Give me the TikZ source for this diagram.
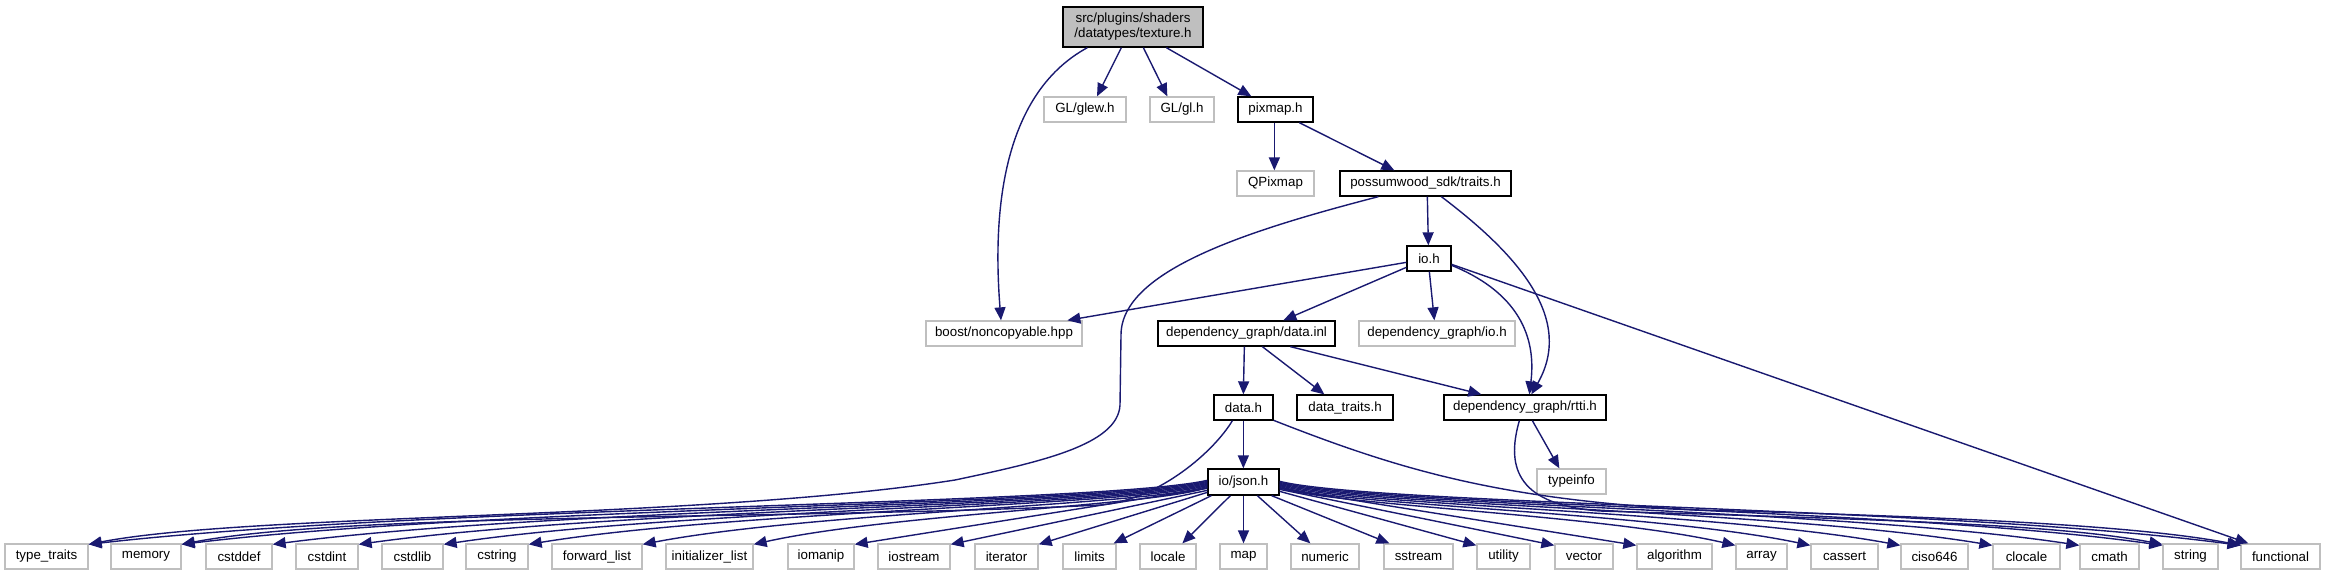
\documentclass[tikz,border=0pt]{standalone}
\usepackage{fontspec}
\setmainfont{Liberation Sans}
\usetikzlibrary{arrows.meta,calc}
\definecolor{edgec}{HTML}{191970}
\definecolor{grayb}{HTML}{BFBFBF}
\tikzset{
 box/.style={draw, rectangle, inner sep=0pt, line width=1.3pt, fill=white, font=\fontsize{13.33}{15}\selectfont},
 extbox/.style={box, draw=grayb},
 intbox/.style={box, draw=black},
 rootbox/.style={box, draw=black, fill=grayb, align=center},
 dep/.style={draw=edgec, line width=1.4pt, -{Triangle[length=13pt,width=11pt]}}
}
\newcommand\mkbox[7]{\node[#6, minimum width={#4-#2}, minimum height={#5-#3}] (#1) at ({(#2+#4)/2},{(#3+#5)/2}) {#7};}
\begin{document}
\begin{tikzpicture}[x=1pt,y=-1pt]
\useasboundingbox (0,0) rectangle (2325,576);
% nodes
\mkbox{texture}{1063}{7}{1203}{47}{rootbox}{src/plugins/shaders\\/datatypes/texture.h}
\mkbox{glew}{1044}{97}{1126}{122}{extbox}{GL/glew.h}
\mkbox{gl}{1150}{97}{1214}{122}{extbox}{GL/gl.h}
\mkbox{pixmap}{1238}{97}{1313}{122}{intbox}{pixmap.h}
\mkbox{qpixmap}{1237}{171}{1314}{196}{extbox}{QPixmap}
\mkbox{traits}{1340}{171}{1511}{196}{intbox}{possumwood\_sdk/traits.h}
\mkbox{io}{1407}{246}{1451}{271}{intbox}{io.h}
\mkbox{boost}{926}{321}{1082}{346}{extbox}{boost/noncopyable.hpp}
\mkbox{datainl}{1158}{321}{1335}{346}{intbox}{dependency\_graph/data.inl}
\mkbox{dgio}{1359}{321}{1515}{346}{extbox}{dependency\_graph/io.h}
\mkbox{datah}{1214}{395}{1273}{420}{intbox}{data.h}
\mkbox{datatraits}{1297}{395}{1393}{420}{intbox}{data\_traits.h}
\mkbox{rtti}{1444}{395}{1606}{420}{intbox}{dependency\_graph/rtti.h}
\mkbox{typeinfo}{1537}{469}{1606}{494}{extbox}{typeinfo}
\mkbox{json}{1208}{469}{1279}{495}{intbox}{io/json.h}
% bottom row
\mkbox{typetraits}{5}{544}{88}{569}{extbox}{type\_traits}
\mkbox{memory}{111}{544}{181}{569}{extbox}{memory}
\mkbox{cstddef}{206}{544}{272}{569}{extbox}{cstddef}
\mkbox{cstdint}{296}{544}{358}{569}{extbox}{cstdint}
\mkbox{cstdlib}{382}{544}{443}{569}{extbox}{cstdlib}
\mkbox{cstring}{466}{544}{528}{569}{extbox}{cstring}
\mkbox{forwardlist}{552}{544}{642}{569}{extbox}{forward\_list}
\mkbox{initlist}{666}{544}{753}{569}{extbox}{initializer\_list}
\mkbox{iomanip}{788}{544}{854}{569}{extbox}{iomanip}
\mkbox{iostream}{878}{544}{950}{569}{extbox}{iostream}
\mkbox{iterator}{975}{544}{1038}{569}{extbox}{iterator}
\mkbox{limits}{1063}{544}{1116}{569}{extbox}{limits}
\mkbox{locale}{1140}{544}{1196}{569}{extbox}{locale}
\mkbox{map}{1220}{544}{1267}{569}{extbox}{map}
\mkbox{numeric}{1291}{544}{1359}{569}{extbox}{numeric}
\mkbox{sstream}{1384}{544}{1453}{569}{extbox}{sstream}
\mkbox{utility}{1477}{544}{1530}{569}{extbox}{utility}
\mkbox{vector}{1555}{544}{1613}{569}{extbox}{vector}
\mkbox{algorithm}{1637}{544}{1712}{569}{extbox}{algorithm}
\mkbox{array}{1736}{544}{1787}{569}{extbox}{array}
\mkbox{cassert}{1811}{544}{1878}{569}{extbox}{cassert}
\mkbox{ciso}{1901}{544}{1968}{569}{extbox}{ciso646}
\mkbox{clocale}{1993}{544}{2060}{569}{extbox}{clocale}
\mkbox{cmath}{2080}{544}{2139}{569}{extbox}{cmath}
\mkbox{string}{2163}{544}{2218}{569}{extbox}{string}
\mkbox{functional}{2241}{544}{2320}{569}{extbox}{functional}
% edges: upper part
\draw[dep] ($(texture.south west)+(25,0)$) .. controls +(-88,48) and +(-8,-101) .. ($(boost.north)+(-3,0)$);
\draw[dep] ($(texture.south west)+(59,0)$) -- ($(glew.north)+(12,0)$);
\draw[dep] ($(texture.south west)+(81,0)$) -- ($(gl.north west)+(18,0)$);
\draw[dep] ($(texture.south west)+(104,0)$) -- ($(pixmap.north west)+(14,0)$);
\draw[dep] ($(pixmap.south west)+(37,0)$) -- ($(qpixmap.north west)+(38,0)$);
\draw[dep] ($(pixmap.south west)+(62,0)$) -- ($(traits.north west)+(55,0)$);
\draw[dep] ($(traits.south west)+(88,0)$) -- ($(io.north west)+(22,0)$);
\draw[dep] ($(traits.south west)+(39,0)$) .. controls (1250,230) and (1121,270) .. (1121,335) -- (1120,405) .. controls (1118,445) and (1040,462) .. (955,480) .. controls (700,520) and (250,513) .. ($(typetraits.north east)+(0,1)$);
\draw[dep] ($(traits.south west)+(102,0)$) .. controls +(78,59) and +(43,-75) .. ($(rtti.north west)+(88,0)$);
\draw[dep] ($(io.north west)+(0,17)$) -- ($(boost.north west)+(142,0)$);
\draw[dep] ($(io.north west)+(0,22)$) -- ($(datainl.north west)+(126,0)$);
\draw[dep] ($(io.south west)+(23,0)$) -- ($(dgio.north west)+(76,0)$);
\draw[dep] ($(io.north east)+(0,20)$) .. controls +(59,24) and +(8,-65) .. ($(rtti.north west)+(86,0)$);
\draw[dep] ($(io.north east)+(0,19)$) -- ($(functional.north west)+(8,0)$);
\draw[dep] ($(datainl.south west)+(87,0)$) -- ($(datah.north west)+(30,0)$);
\draw[dep] ($(datainl.south west)+(105,0)$) -- ($(datatraits.north west)+(28,0)$);
\draw[dep] ($(datainl.south west)+(133,0)$) -- ($(rtti.north west)+(38,0)$);
\draw[dep] ($(datah.south west)+(30,0)$) -- ($(json.north west)+(36,0)$);
\draw[dep] ($(datah.south west)+(19,0)$) .. controls (1215,450) and (1160,500) .. (1100,505) .. controls (800,520) and (350,512) .. ($(memory.north east)+(0,1)$);
\draw[dep] ($(datah.north east)+(0,26)$) .. controls (1400,470) and (1500,500) .. (1700,510) .. controls (2000,518) and (2150,528) .. ($(functional.north west)+(1,2)$);
\draw[dep] ($(rtti.south west)+(89,0)$) -- ($(typeinfo.north west)+(23,0)$);
\draw[dep] ($(rtti.south west)+(76,0)$) .. controls (1505,470) and (1520,505) .. (1600,511) .. controls (1900,520) and (2060,525) .. ($(string.north west)+(0,1)$);
% edges: io/json.h to the right
\draw[dep] (json.south) -- (map.north);
\draw[dep] ($(json.south west)+(23,0)$) -- ($(locale.north west)+(43,0)$);
\draw[dep] ($(json.south west)+(50,0)$) -- ($(numeric.north west)+(20,0)$);
\draw[dep] ($(json.south east)+(-8,0)$) -- ($(sstream.north west)+(6,0)$);
\draw[dep] ($(json.north east)+(0,23)$) -- ($(utility.north west)+(0,2)$);
\draw[dep] ($(json.north east)+(0,21)$) -- ($(vector.north west)+(0,2)$);
\draw[dep] ($(json.north east)+(0,20)$) -- ($(algorithm.north west)+(0,2)$);
\draw[dep] ($(json.north east)+(0,19)$) .. controls (1325,505) and (1599,514) .. ($(array.north west)+(0,2)$);
\draw[dep] ($(json.north east)+(0,18)$) .. controls (1332,505) and (1651,512) .. ($(cassert.north west)+(0,2)$);
\draw[dep] ($(json.north east)+(0,17)$) .. controls (1341,505) and (1714,511) .. ($(ciso.north west)+(0,2)$);
\draw[dep] ($(json.north east)+(0,16)$) .. controls (1350,505) and (1779,510) .. ($(clocale.north west)+(0,2)$);
\draw[dep] ($(json.north east)+(0,15)$) .. controls (1359,505) and (1840,509) .. ($(cmath.north west)+(0,2)$);
\draw[dep] ($(json.north east)+(0,14)$) .. controls (1367,505) and (1898,508) .. ($(string.north west)+(0,2)$);
\draw[dep] ($(json.north east)+(0,13)$) .. controls (1375,505) and (1952,507) .. ($(functional.north west)+(0,2)$);
% edges: io/json.h to the left
\draw[dep] ($(json.south west)+(4,0)$) -- ($(limits.north east)+(-3,0)$);
\draw[dep] ($(json.north west)+(0,24)$) -- ($(iterator.north east)+(0,1)$);
\draw[dep] ($(json.north west)+(0,22)$) -- ($(iostream.north east)+(0,1)$);
\draw[dep] ($(json.north west)+(0,20)$) -- ($(iomanip.north east)+(0,1)$);
\draw[dep] ($(json.north west)+(0,19)$) .. controls (1162,505) and (890,514) .. ($(initlist.north east)+(0,1)$);
\draw[dep] ($(json.north west)+(0,18)$) .. controls (1151,505) and (812,512) .. ($(forwardlist.north east)+(0,1)$);
\draw[dep] ($(json.north west)+(0,17)$) .. controls (1140,505) and (732,511) .. ($(cstring.north east)+(0,1)$);
\draw[dep] ($(json.north west)+(0,16)$) .. controls (1132,505) and (673,510) .. ($(cstdlib.north east)+(0,1)$);
\draw[dep] ($(json.north west)+(0,15)$) .. controls (1123,505) and (613,509) .. ($(cstdint.north east)+(0,1)$);
\draw[dep] ($(json.north west)+(0,14)$) .. controls (1114,505) and (553,508) .. ($(cstddef.north east)+(0,1)$);
\draw[dep] ($(json.north west)+(0,13)$) .. controls (1105,505) and (489,507) .. ($(memory.north east)+(0,1)$);
\draw[dep] ($(json.north west)+(0,12)$) .. controls (1096,505) and (424,506) .. ($(typetraits.north east)+(0,1)$);
\end{tikzpicture}
\end{document}
